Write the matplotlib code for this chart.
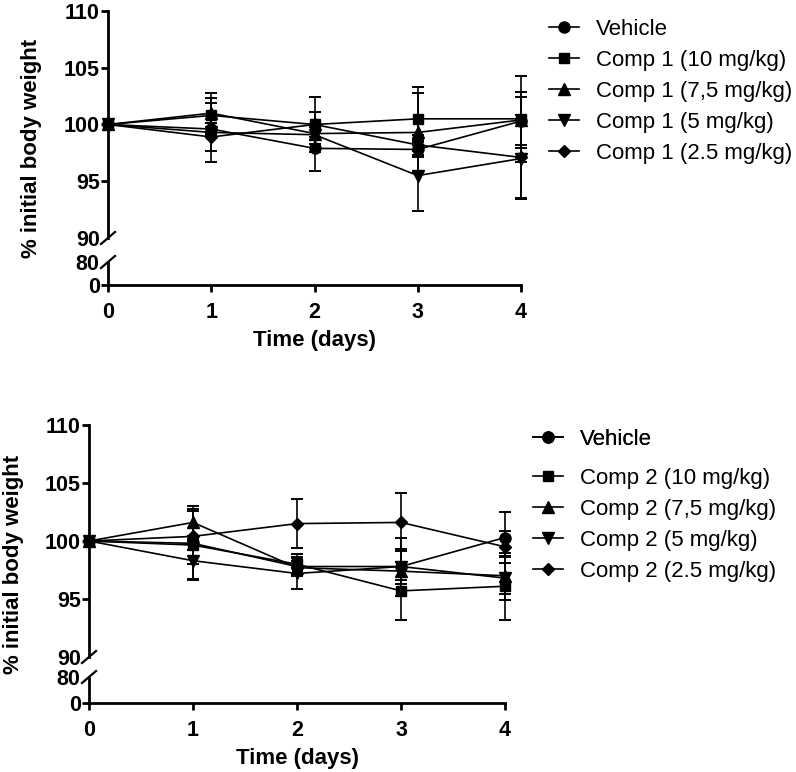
import matplotlib
matplotlib.use('Agg')
import matplotlib.pyplot as plt

plt.rcParams['font.family'] = ['Liberation Sans', 'DejaVu Sans']

W, H = 796, 772

days = [0, 1, 2, 3, 4]

# Panel 1 - Comp 1 (mean, SEM)
labels_1 = ['Vehicle', 'Comp 1 (10 mg/kg)', 'Comp 1 (7,5 mg/kg)',
            'Comp 1 (5 mg/kg)', 'Comp 1 (2.5 mg/kg)']
vehicle_1 = [100, 99.6, 97.9, 97.8, 100.3]
comp1_10 = [100, 100.8, 100.0, 100.5, 100.5]
comp1_75 = [100, 101.0, 99.2, 99.3, 100.4]
comp1_5 = [100, 99.3, 99.1, 95.5, 97.0]
comp1_25 = [100, 98.9, 100.0, 98.2, 97.1]
vehicle_1_sem = [0, 0.5, 2.0, 0.7, 2.1]
comp1_10_sem = [0, 1.5, 1.1, 2.8, 3.8]
comp1_75_sem = [0, 1.8, 0.6, 3.5, 2.5]
comp1_5_sem = [0, 2.6, 0.8, 3.1, 3.5]
comp1_25_sem = [0, 1.2, 2.4, 0.9, 3.7]

# Panel 2 - Comp 2 (mean, SEM)
labels_2 = ['Vehicle', 'Comp 2 (10 mg/kg)', 'Comp 2 (7,5 mg/kg)',
            'Comp 2 (5 mg/kg)', 'Comp 2 (2.5 mg/kg)']
vehicle_2 = [100, 99.8, 97.8, 97.8, 100.3]
comp2_10 = [100, 99.65, 98.0, 95.7, 96.1]
comp2_75 = [100, 101.6, 97.7, 97.4, 97.0]
comp2_5 = [100, 98.3, 97.2, 97.8, 96.8]
comp2_25 = [100, 100.4, 101.5, 101.6, 99.5]
vehicle_2_sem = [0, 0.6, 0.8, 1.5, 2.2]
comp2_10_sem = [0, 2.9, 0.9, 2.5, 2.9]
comp2_75_sem = [0, 1.4, 0.6, 0.8, 1.6]
comp2_5_sem = [0, 1.7, 1.3, 2.5, 1.9]
comp2_25_sem = [0, 2.4, 2.1, 2.5, 1.4]

hi_ticks = [90, 95, 100, 105, 110]
lo_ticks = [0, 80]

markers = ['o', 's', '^', 'v', 'D']
msizes = [8, 7.5, 8.5, 8.5, 6]


def fx(x):
    return x / W


def fy(y):
    return 1 - y / H


def draw_panel(fig, left, right, y110, y90, y80, y0, means, sems):
    ax_hi = fig.add_axes([fx(left), fy(y90), fx(right - left), (y90 - y110) / H])
    ax_lo = fig.add_axes([fx(left), fy(y0), fx(right - left), (y0 - y80) / H])

    lines = []
    for m, s, mk, ms in zip(means, sems, markers, msizes):
        eb = ax_hi.errorbar(days, m, yerr=s, fmt='none', ecolor='black',
                            elinewidth=1.2, capsize=4, capthick=1.4)
        for art in eb.lines[1] + eb.lines[2]:
            art.set_clip_on(False)
        ln, = ax_hi.plot(days, m, color='black', lw=1.2, marker=mk,
                         markersize=ms, clip_on=False)
        lines.append(ln)

    for ax in (ax_hi, ax_lo):
        ax.set_xlim(0, 4)
        ax.spines['top'].set_visible(False)
        ax.spines['right'].set_visible(False)
        ax.spines['left'].set_linewidth(2)
        ax.spines['bottom'].set_linewidth(2)
        ax.tick_params(width=2, length=5)
        ax.patch.set_alpha(0)

    ax_hi.set_ylim(90, 110)
    ax_hi.set_yticks(hi_ticks, labels=[str(t) for t in hi_ticks],
                     fontsize=15.5, fontweight='bold')
    ax_hi.spines['bottom'].set_visible(False)
    ax_hi.tick_params(axis='x', bottom=False, labelbottom=False)
    ax_hi.tick_params(axis='y', pad=1)
    ax_hi.yaxis.get_major_ticks()[0].tick1line.set_visible(False)

    ax_lo.set_ylim(0, 80)
    ax_lo.set_yticks(lo_ticks, labels=[str(t) for t in lo_ticks],
                     fontsize=15.5, fontweight='bold')
    ax_lo.tick_params(axis='y', pad=1)
    ax_lo.yaxis.get_major_ticks()[1].tick1line.set_visible(False)
    ax_lo.set_xticks(days, labels=[str(d) for d in days],
                     fontsize=15.5, fontweight='bold')
    ax_lo.tick_params(axis='x', pad=7)

    # break marks on the y axis
    w_ax = right - left
    dx = 7 / w_ax
    dy_hi = 6 / (y90 - y110)
    dy_lo = 6 / (y0 - y80)
    ax_hi.plot([-dx, dx], [-dy_hi, dy_hi], transform=ax_hi.transAxes,
               color='black', lw=1.6, clip_on=False)
    ax_lo.plot([-dx, dx], [1 - dy_lo, 1 + dy_lo], transform=ax_lo.transAxes,
               color='black', lw=1.6, clip_on=False)

    ax_lo.set_xlabel('Time (days)', fontsize=16, fontweight='bold', labelpad=5)
    return ax_hi, ax_lo, lines


fig = plt.figure(figsize=(W / 100, H / 100), dpi=100)

means_1 = [vehicle_1, comp1_10, comp1_75, comp1_5, comp1_25]
sems_1 = [vehicle_1_sem, comp1_10_sem, comp1_75_sem, comp1_5_sem, comp1_25_sem]
means_2 = [vehicle_2, comp2_10, comp2_75, comp2_5, comp2_25]
sems_2 = [vehicle_2_sem, comp2_10_sem, comp2_75_sem, comp2_5_sem, comp2_25_sem]

hi1, lo1, lines1 = draw_panel(fig, 108, 521, 11, 238, 262, 285, means_1, sems_1)
hi2, lo2, lines2 = draw_panel(fig, 89, 505, 425, 657, 677, 703, means_2, sems_2)

fig.text(fx(32), fy(148), '% initial body weight', rotation=90, fontsize=16,
         fontweight='bold', ha='center', va='center')
fig.text(fx(14), fy(564), '% initial body weight', rotation=90, fontsize=16,
         fontweight='bold', ha='center', va='center')

leg_kw = dict(loc='upper left', frameon=False, fontsize=16, handlelength=1.35,
              handletextpad=0.75, labelspacing=0.45, borderpad=0, borderaxespad=0)

fig.legend(lines1, labels_1, bbox_to_anchor=(fx(549), fy(19)), **leg_kw)
leg_a = fig.legend(lines2[:1], labels_2[:1], bbox_to_anchor=(fx(533), fy(429)), **leg_kw)
fig.add_artist(leg_a)
fig.legend(lines2[1:], labels_2[1:], bbox_to_anchor=(fx(533), fy(468)), **leg_kw)

fig.savefig('out.png', dpi=100)
